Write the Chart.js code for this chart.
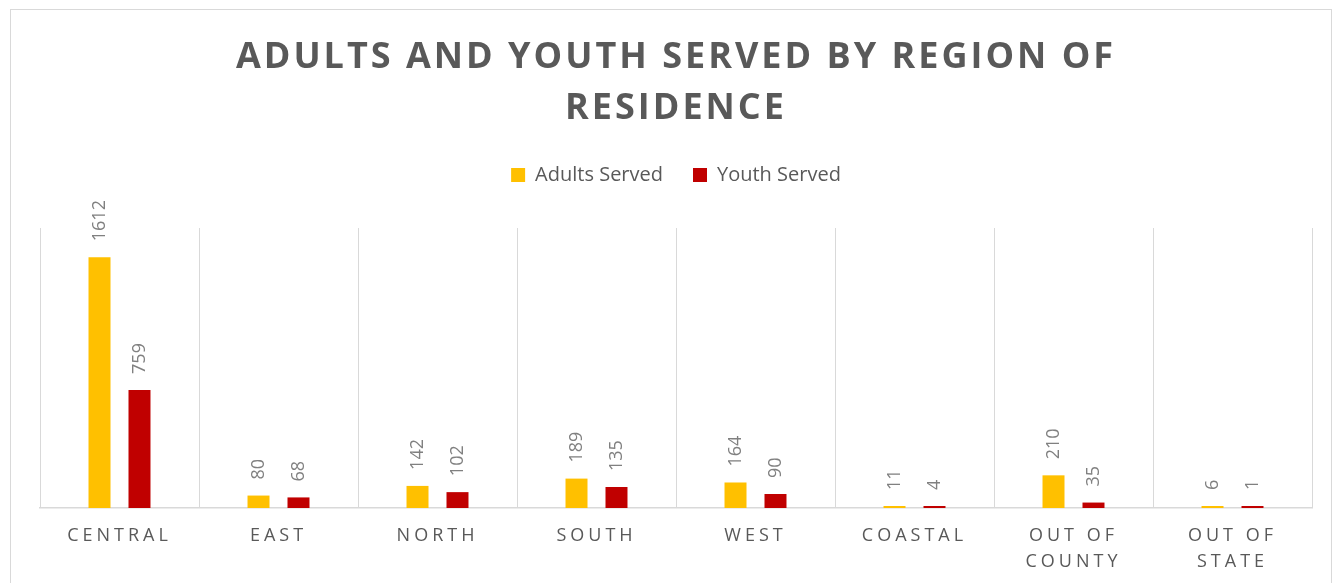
<!DOCTYPE html>
<html><head><meta charset="utf-8">
<script src="https://cdn.jsdelivr.net/npm/chart.js@4.4.0/dist/chart.umd.min.js"></script>
<style>
html,body{margin:0;padding:0;background:#fff;overflow:hidden;}
#wrap{position:relative;width:1344px;height:583px;}
#frame{position:absolute;left:10px;top:9px;width:1322px;height:600px;border:1px solid #d9d9d9;box-sizing:border-box;}
canvas{position:absolute;left:0;top:0;}
</style></head><body>
<div id="wrap"><div id="frame"></div><canvas id="c" width="1344" height="583"></canvas></div>
<script>
const categories = ['CENTRAL','EAST','NORTH','SOUTH','WEST','COASTAL',['OUT OF','COUNTY'],['OUT OF','STATE']];
const adultsServed = [1612,80,142,189,164,11,210,6];
const youthServed = [759,68,102,135,90,4,35,1];
const seriesNames = ['Adults Served','Youth Served'];
const titleLines = ['ADULTS AND YOUTH SERVED BY REGION OF','RESIDENCE'];

const spacingPlugin = {
  id:'spacing',
  beforeDraw(chart){
    if(chart.$patched) return;
    chart.$patched = true;
    const wrap=(obj,fn,sp)=>{const o=obj[fn]; obj[fn]=function(...a){const c=this.ctx; c.save(); c.letterSpacing=sp; o.apply(this,a); c.restore();};};
    wrap(chart.titleBlock,'draw','3px');
    wrap(chart.scales.x,'drawLabels','4px');
  }
};

const valueLabels = {
  id:'valueLabels',
  afterDatasetsDraw(chart){
    const ctx=chart.ctx;
    ctx.save();
    ctx.font='18px "Open Sans"';
    ctx.fillStyle='#808080';
    ctx.textAlign='left'; ctx.textBaseline='middle';
    chart.data.datasets.forEach((ds,i)=>{
      chart.getDatasetMeta(i).data.forEach((bar,j)=>{
        ctx.save();
        ctx.translate(bar.x, bar.y-16);
        ctx.rotate(-Math.PI/2);
        ctx.fillText(String(ds.data[j]),0,0);
        ctx.restore();
      });
    });
    ctx.restore();
  }
};

new Chart(document.getElementById('c'), {
  type:'bar',
  data:{
    labels:categories,
    datasets:[
      {label:seriesNames[0], data:adultsServed, backgroundColor:'#FFC000', categoryPercentage:0.503, barPercentage:0.55, minBarLength:2},
      {label:seriesNames[1], data:youthServed, backgroundColor:'#C00000', categoryPercentage:0.503, barPercentage:0.55, minBarLength:2}
    ]
  },
  options:{
    responsive:false, animation:false, devicePixelRatio:1,
    layout:{padding:{left:40,right:32,top:0,bottom:-7}},
    plugins:{
      title:{display:true, text:titleLines, color:'#595959', font:{family:'"Open Sans"', size:36, weight:'bold', lineHeight:51/36}, padding:{top:32,bottom:1}},
      subtitle:{display:true, text:'', weight:500, font:{size:1,lineHeight:1}, padding:{top:32,bottom:0}},
      legend:{display:true, position:'top', labels:{boxWidth:14, boxHeight:14, padding:30, color:'#595959', font:{family:'"Open Sans"', size:20}}},
      tooltip:{enabled:false}
    },
    scales:{
      x:{
        grid:{display:true, color:'#d9d9d9', drawTicks:false, offset:true},
        border:{display:true, color:'#d9d9d9', width:1.5},
        ticks:{color:'#595959', padding:15, autoSkip:false, maxRotation:0, font:{family:'"Open Sans"', size:18, lineHeight:26/18}}
      },
      y:{display:false, min:0, max:1800}
    }
  },
  plugins:[spacingPlugin, valueLabels]
});
</script>
</body></html>
